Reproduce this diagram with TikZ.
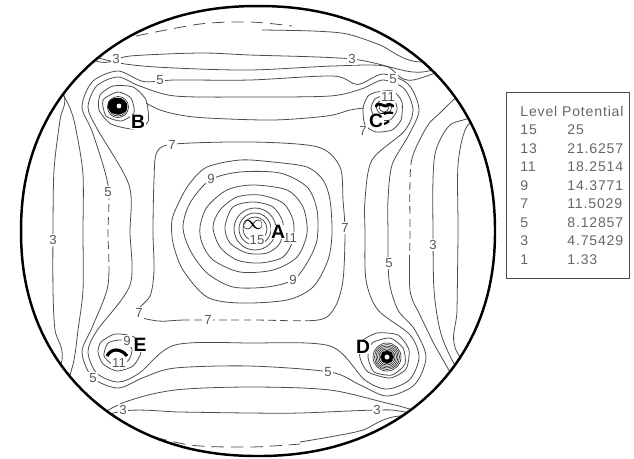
\documentclass[tikz,border=0pt]{standalone}
\usepackage{fontspec}
\setmainfont{Liberation Sans}
\newfontfamily\legfont[LetterSpace=6]{Liberation Sans}

\begin{document}
\begin{tikzpicture}[x=0.02cm, y=-0.02cm,
  cline/.style={draw=black!70, line width=0.45pt},
  dense/.style={draw=black!85, line width=0.35pt},
  rim/.style={draw=black, line width=1.4pt},
  gap/.style={draw=white, line width=2pt, dash pattern=on 2.5pt off 4.5pt},
  lvl/.style={fill=white, inner sep=0.6pt, text=black!65, font=\fontsize{7.5}{7.5}\selectfont},
  pt/.style={fill=white, inner sep=0.3pt, font=\bfseries\fontsize{11}{11}\selectfont},
  infsym/.style={inner sep=0pt, font=\fontsize{12}{12}\selectfont},
  legtxt/.style={anchor=base west, inner sep=0pt, text=black!60, font=\legfont\fontsize{8}{9}\selectfont}
]
\useasboundingbox (0,0) rectangle (634,458);

\coordinate (qA) at (255,229);
\coordinate (qB) at (118,107);
\coordinate (qC) at (384,107);
\coordinate (qD) at (387,357);
\coordinate (qE) at (116,352);

\begin{scope}
\clip plot[domain=1:359, samples=180] ({258+237*cos(\x)*abs(cos(\x))^(-0.07)}, {231+225*sin(\x)*abs(sin(\x))^(-0.07)}) -- cycle;

% outer levels
\draw[cline, dash pattern=on 7pt off 4pt] plot[smooth] coordinates {(136,36) (200,24) (250,22) (292,26)};
\draw[cline, dash pattern=on 7pt off 4pt] plot[smooth] coordinates {(136,432) (190,445) (250,447) (300,444)};
\draw[cline] plot[smooth, tension=0.5] coordinates {(262,30) (313,31) (347,34) (380,45) (420,62) (520,55) (485,110) (466,128) (458,165) (458,232) (457,310) (456,350) (500,420) (400,416) (363,430) (335,436) (300,442)};
\draw[cline] plot[smooth cycle, tension=0.5] coordinates {(53,232) (54,170) (60,120) (64,95) (40,40) (100,62) (130,56) (200,53) (250,55) (352,59) (413,72) (445,66) (520,40) (480,110) (450,125) (436,150) (433,180) (433,232) (434,290) (440,330) (452,360) (490,430) (405,412) (377,410) (300,413) (250,413) (180,412) (123,411) (40,430) (62,360) (55,330) (53,290)};
\draw[cline] plot[smooth cycle, tension=0.5] coordinates {(83,232) (83,175) (77,135) (70,108) (45,50) (125,64) (175,68) (250,70) (333,66) (385,66) (413,80) (500,50) (445,108) (428,125) (413,155) (410,180) (410,232) (410,290) (420,315) (432,340) (470,420) (395,405) (330,390) (250,387) (175,390) (125,402) (60,430) (74,360) (78,330) (83,290)};
\draw[cline] plot[smooth cycle, tension=0.5] coordinates {(108,285) (108,232) (108,185) (92.5,132.5) (82,107) (92.5,81.5) (118,71) (143.5,81.5) (175,80) (250,80) (333,76) (357.5,84.5) (383,74) (408.5,84.5) (419,110) (408.5,135.5) (392,165) (388,200) (388,232) (389,280) (398,310) (414.6,329.4) (426,357) (414.6,384.6) (387,396) (359.4,384.6) (330,372) (250,366) (175,368) (143.5,377.5) (118,388) (92.5,377.5) (82,352) (92.5,326.5)};
\draw[cline] plot[smooth cycle, tension=0.5] coordinates {(130,285) (130,232) (129,185) (96.8,128.2) (88,107) (96.8,85.8) (118,77) (139.2,85.8) (175,96) (250,97) (330,96) (361.8,88.8) (383,80) (404.2,88.8) (413,110) (404.2,131.2) (372,160) (365,200) (365,232) (366,280) (378,310) (409.6,334.4) (419,357) (409.6,379.6) (387,389) (364.4,379.6) (330,346) (250,343) (175,345) (139.2,373.2) (118,382) (96.8,373.2) (88,352) (96.8,330.8)};
\draw[cline] plot[smooth, tension=0.5] coordinates {(146,103) (160,110) (180,115) (207,118) (273,120) (327,116) (350,110) (364,108)};
\draw[gap] (108,200) -- (108,272);
\draw[gap] (410,165) -- (410,262);

% rings round A
\draw[cline] plot[smooth cycle, tension=0.5] coordinates {(153,232) (154,180) (157,152) (175,144) (253,142) (318,147) (340,167) (343,200) (345,232) (343,280) (335,307) (318,320) (253,320) (185,320) (158,321) (135,314) (150,296) (154,270)};
\draw[gap] (190,320) -- (310,320);
\draw[cline] plot[smooth cycle, tension=0.5] coordinates {(172,220) (180,200) (190,183) (207,167) (240,160) (273,162) (307,167) (323,180) (330,200) (332,233) (328,260) (313,287) (287,300) (240,303) (207,297) (183,270) (173,243)};
\draw[cline] plot[smooth cycle, tension=0.5] coordinates {(183,227) (190,203) (210,180) (240,172) (280,173) (307,187) (317,210) (317,240) (307,263) (293,280) (267,287) (233,287) (207,273) (190,250)};
\draw[cline] plot[smooth cycle, tension=0.5] coordinates {(200,227) (207,207) (227,190) (253,185) (287,190) (303,207) (307,233) (297,257) (273,270) (240,272) (213,260) (202,243)};
\draw[cline] plot[smooth cycle, tension=0.5] coordinates {(213,227) (220,210) (237,197) (260,195) (283,203) (293,220) (293,240) (283,257) (260,263) (237,260) (220,247)};
\draw[cline] plot[smooth cycle, tension=0.5] coordinates {(225,227) (233,207) (253,202) (273,207) (283,223) (280,243) (267,253) (247,253) (230,243)};
\foreach \r in {21,16,12}
  \draw[cline] (qA) circle [radius=\r];

% rings round B
\draw[cline] plot[smooth cycle, tension=0.4] coordinates {(100,95) (113,86) (133,87) (146,100) (148,122) (133,129) (111,124) (99,110)};
\draw[cline] plot[smooth cycle, tension=0.4] coordinates {(118,92) (131,98) (134,113) (121,121) (106,116) (103,100)};
\foreach \r in {7.5,9,10.5}
  \draw[dense] (qB) circle [radius=\r];
\fill[black] plot[smooth cycle, tension=0.4] coordinates {(109,101) (115,98) (122,99) (127,104) (126,111) (120,114) (112,113) (108,108)};
\fill[white] (119,106) circle [radius=2.4];

% rings round C
\draw[cline] plot[smooth cycle, tension=0.4] coordinates {(377,92) (393,91) (402,102) (401,120) (392,130) (376,132) (365,125) (363,108) (368,96)};
\draw[cline] plot[smooth cycle, tension=0.4] coordinates {(383,96) (394,99) (397,110) (390,120) (376,119) (371,108) (375,99)};
\foreach \r in {5,7.5}
  \draw[dense] (qC) circle [radius=\r];
\draw[black, line width=1.6pt, line cap=round] (376,106) .. controls (380,100) and (384,110) .. (389,104) -- (393,106);
\draw[black, line width=1.3pt] (393,113) .. controls (385,111) and (375,116) .. (378,122) .. controls (380,126) and (386,124) .. (389,121);

% rings round D
\draw[cline] plot[smooth cycle, tension=0.4] coordinates {(361,342) (377,333) (398,335) (409,350) (406,369) (390,378) (368,372) (360,358)};
\draw[cline] plot[smooth cycle, tension=0.4] coordinates {(372,343) (390,338) (403,348) (405,364) (392,375) (374,372) (368,357)};
\foreach \r in {6.5,8,...,14}
  \draw[dense] (qD) circle [radius=\r];
\draw[black, line width=2pt] (qD) circle [radius=4.5];
\fill[white] (qD) circle [radius=2.2];

% rings round E
\draw[cline] plot[smooth cycle, tension=0.4] coordinates {(101,342) (115,334) (134,337) (141,352) (133,366) (117,371) (103,364) (98,352)};
\draw[cline] plot[smooth cycle, tension=0.4] coordinates {(108,343) (122,340) (132,349) (128,361) (114,365) (104,356)};
\draw[black, line width=1.8pt] (107,356) .. controls (111,348) and (121,348) .. (127,356);
\end{scope}

% level numbers
\foreach \lab/\px/\py [count=\n] in {3/116/59, 3/352/59, 3/53/240, 3/433/245, 3/123/410, 3/377/410, 5/160/80, 5/393/79, 5/108/192, 5/389/263, 5/93/378, 5/328/372, 7/172/145, 7/345/228, 7/363/131, 7/139/313, 7/208/320, 9/211/179, 9/293/280, 9/127/341, 11/290/238, 11/388/97, 11/119/363, 15/257/240}
  \node[lvl] (lab\n) at (\px,\py) {\lab};

\node[infsym] (inf) at (253,225) {$\infty$};
\node[pt] (A) at (278,232) {A};
\node[pt] (B) at (138,122) {B};
\node[pt] (C) at (376,121) {C};
\node[pt] (D) at (363,347) {D};
\node[pt] (E) at (140,345) {E};

\draw[rim] plot[domain=1:359, samples=180] ({258+237*cos(\x)*abs(cos(\x))^(-0.07)}, {231+225*sin(\x)*abs(sin(\x))^(-0.07)}) -- cycle;

% legend
\draw[draw=black!70, line width=0.5pt] (506,92) rectangle (629,278);
\node[legtxt] (head) at (520,116) {Level Potential};
\foreach \lv/\pot [count=\i] in {15/25, 13/21.6257, 11/18.2514, 9/14.3771, 7/11.5029, 5/8.12857, 3/4.75429, 1/1.33} {
  \node[legtxt] (lv\i) at (520,{116+18.5*\i}) {\lv};
  \node[legtxt] (pot\i) at (567,{116+18.5*\i}) {\pot};
}
\end{tikzpicture}
\end{document}
